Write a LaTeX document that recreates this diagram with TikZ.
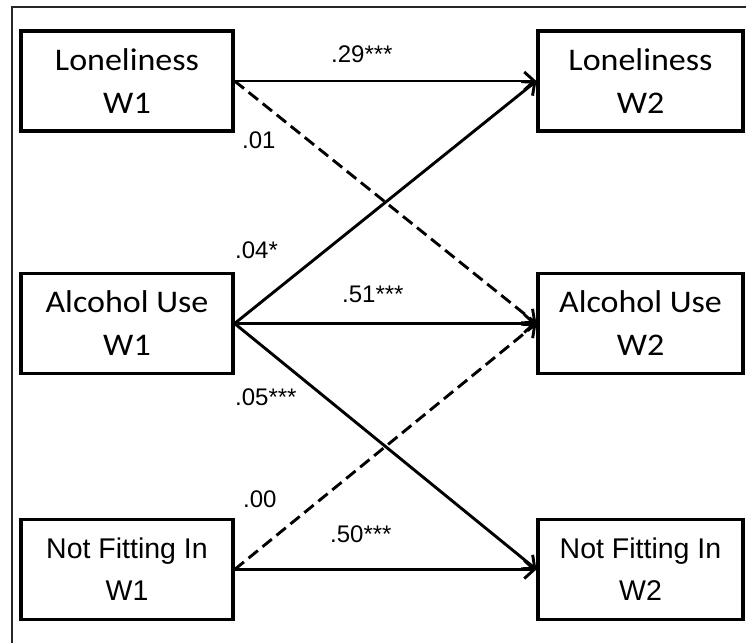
\documentclass[tikz,border=0pt]{standalone}
\usepackage{fontspec}
\setmainfont{Liberation Sans}
\newfontfamily\boxfont{Carlito}[FakeStretch=1.08]
\usetikzlibrary{arrows.meta}
\tikzset{
  varbox/.style={draw, line width=3.2pt, minimum height=100pt, inner sep=0pt, align=center,
    font=\boxfont\fontsize{31.5}{43}\selectfont},
  sansbox/.style={font=\fontsize{28.5}{42}\selectfont},
  leftbox/.style={varbox, minimum width=212pt},
  rightbox/.style={varbox, minimum width=205pt},
  path/.style={line width=2.9pt, -{Straight Barb[length=10pt,width=18pt,line width=2.9pt]}},
  nspath/.style={path, dash pattern=on 12pt off 6pt},
  coef/.style={anchor=base west, inner sep=0pt, font=\fontsize{24}{28}\selectfont},
}
\begin{document}
\begin{tikzpicture}[x=1pt,y=-1pt]
\useasboundingbox (0,0) rectangle (746,643);
\coordinate (fbl) at (12,643);
\coordinate (ftl) at (12,7);
\coordinate (ftr) at (746,7);
\draw[line width=1.6pt, black!85] (fbl) -- (ftl) -- (ftr);

\node[leftbox] (l1) at (127,81) {Loneliness\\W1};
\node[leftbox] (a1) at (127,323.5) {Alcohol Use\\W1};
\node[leftbox, sansbox] (n1) at (127,569.5) {Not Fitting In\\W1};
\node[rightbox] (l2) at (640.5,81) {Loneliness\\W2};
\node[rightbox] (a2) at (640.5,323.5) {Alcohol Use\\W2};
\node[rightbox, sansbox] (n2) at (640.5,569.5) {Not Fitting In\\W2};

\draw[path] (l1.east) -- (l2.west);
\draw[nspath] (l1.east) -- (a2.west);
\draw[path] (a1.east) -- (l2.west);
\draw[path] (a1.east) -- (a2.west);
\draw[path] (a1.east) -- (n2.west);
\draw[nspath] (n1.east) -- (a2.west);
\draw[path] (n1.east) -- (n2.west);

\node[coef] (c1) at (331,62) {.29***};
\node[coef] (c2) at (242,148) {.01};
\node[coef] (c3) at (235,258) {.04*};
\node[coef] (c4) at (342,302) {.51***};
\node[coef] (c5) at (235,405) {.05***};
\node[coef] (c6) at (243,507) {.00};
\node[coef] (c7) at (330,542) {.50***};
\end{tikzpicture}
\end{document}
